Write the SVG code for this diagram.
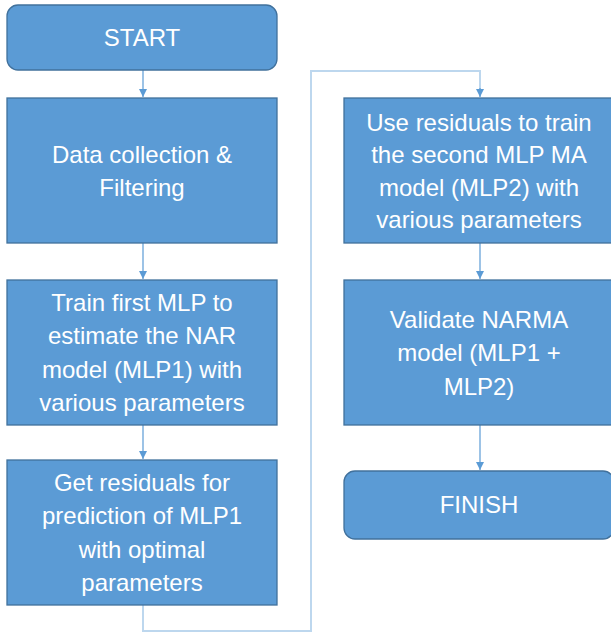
<svg xmlns="http://www.w3.org/2000/svg" width="611" height="633" viewBox="0 0 611 633">
<defs>
<style>
.box{fill:#5b9bd5;stroke:#41719c;stroke-width:1.3}
.t{fill:#ffffff;font-family:"Liberation Sans",Arial,sans-serif;font-size:24px;text-anchor:middle}
.c{fill:none;stroke:#5b9bd5;stroke-width:1.2}
.loop{fill:none;stroke:#bdd7ee;stroke-width:2}
</style>
<marker id="ah" viewBox="0 0 10 10" refX="10" refY="5" markerWidth="8" markerHeight="8" markerUnits="userSpaceOnUse" orient="auto">
<path d="M0,0 L10,5 L0,10 Z" fill="#5b9bd5"/>
</marker>
</defs>
<rect width="611" height="633" fill="#ffffff"/>
<g id="connectors">
<line class="c" x1="143" y1="70" x2="143" y2="97" marker-end="url(#ah)"/>
<line class="c" x1="143" y1="243" x2="143" y2="279" marker-end="url(#ah)"/>
<line class="c" x1="143" y1="425" x2="143" y2="459" marker-end="url(#ah)"/>
<polyline class="loop" points="143,605 143,631 311,631 311,71 480,71 480,90"/>
<line class="c" x1="480" y1="88" x2="480" y2="97" marker-end="url(#ah)"/>
<line class="c" x1="480" y1="243" x2="480" y2="279" marker-end="url(#ah)"/>
<line class="c" x1="480" y1="425" x2="480" y2="470" marker-end="url(#ah)"/>
</g>
<g id="start">
<rect class="box" x="7" y="5" width="270" height="65" rx="11"/>
<text class="t" x="142" y="46">START</text>
</g>
<g id="data">
<rect class="box" x="7" y="98" width="270" height="145"/>
<text class="t" x="142" y="163">Data collection &amp;</text>
<text class="t" x="142" y="196">Filtering</text>
</g>
<g id="train1">
<rect class="box" x="7" y="280" width="270" height="145"/>
<text class="t" x="142" y="311">Train first MLP to</text>
<text class="t" x="142" y="344">estimate the NAR</text>
<text class="t" x="142" y="378">model (MLP1) with</text>
<text class="t" x="142" y="411">various parameters</text>
</g>
<g id="residuals">
<rect class="box" x="7" y="460" width="270" height="145"/>
<text class="t" x="142" y="491">Get residuals for</text>
<text class="t" x="142" y="524">prediction of MLP1</text>
<text class="t" x="142" y="558">with optimal</text>
<text class="t" x="142" y="591">parameters</text>
</g>
<g id="train2">
<rect class="box" x="344" y="98" width="270" height="145"/>
<text class="t" x="479" y="131">Use residuals to train</text>
<text class="t" x="479" y="163">the second MLP MA</text>
<text class="t" x="479" y="196">model (MLP2) with</text>
<text class="t" x="479" y="228">various parameters</text>
</g>
<g id="validate">
<rect class="box" x="344" y="280" width="270" height="145"/>
<text class="t" x="479" y="328">Validate NARMA</text>
<text class="t" x="479" y="361">model (MLP1 +</text>
<text class="t" x="479" y="395">MLP2)</text>
</g>
<g id="finish">
<rect class="box" x="344" y="471" width="270" height="68" rx="11"/>
<text class="t" x="479" y="513">FINISH</text>
</g>
</svg>
